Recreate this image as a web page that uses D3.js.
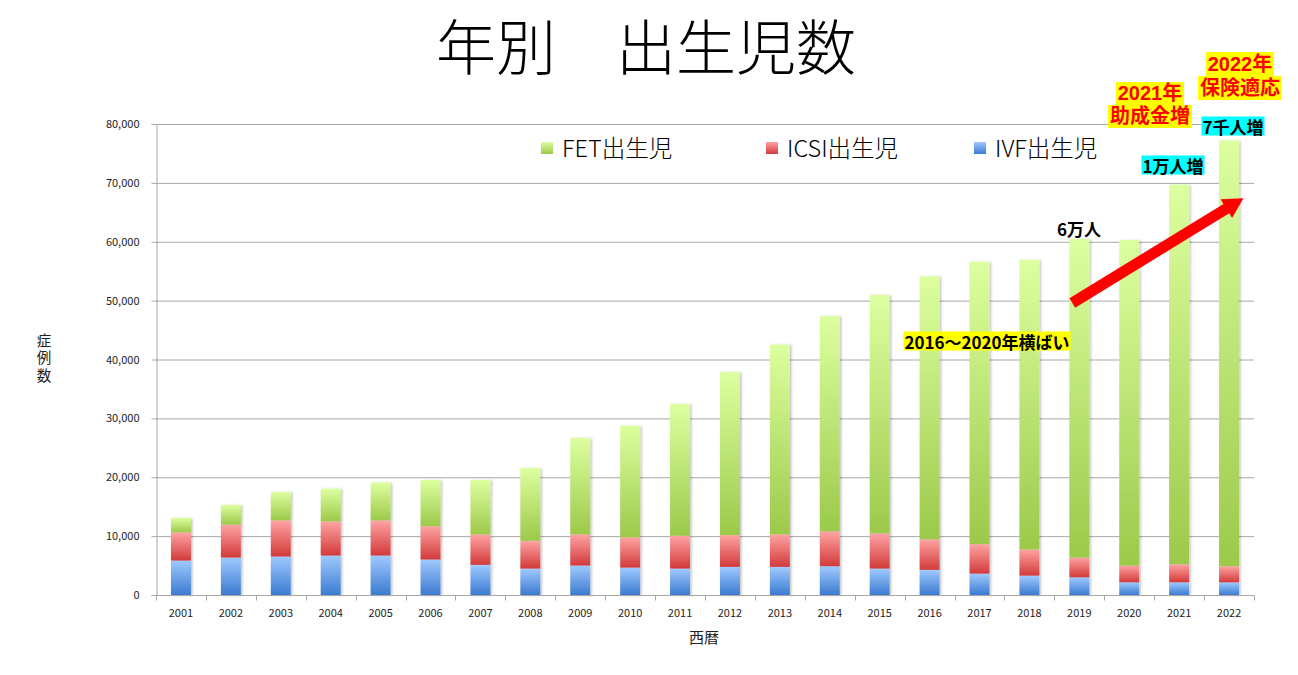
<!DOCTYPE html>
<html><head><meta charset="utf-8">
<script src="https://cdn.jsdelivr.net/npm/d3@7"></script>
<style>
html,body{margin:0;padding:0;background:#fff;}
svg{display:block;}
text{font-family:"Noto Sans CJK JP","Noto Sans",sans-serif;}
.note{font-family:"Liberation Sans","Noto Sans CJK JP",sans-serif;font-weight:700;color:#ff0000;text-align:center;font-size:20px;}
.note span{display:inline-block;background:#ffff00;padding:0 2px;}
</style></head>
<body>
<svg id="chart" width="1298" height="675"></svg>
<script>
const years = ["2001","2002","2003","2004","2005","2006","2007","2008","2009","2010","2011","2012","2013","2014","2015","2016","2017","2018","2019","2020","2021","2022"];
const ivfBirths = [5850,6360,6540,6700,6700,6030,5120,4490,5000,4660,4490,4780,4780,4890,4490,4270,3630,3290,3000,2150,2150,2150];
const icsiBirths = [4780,5580,6140,5800,5980,5630,5170,4720,5290,5120,5580,5390,5510,5910,5970,5170,5010,4440,3360,2850,3070,2730];
const fetBirths = [2470,3360,4820,5570,6410,7880,9250,12370,16370,18970,22380,27700,32230,36550,40490,44670,47970,49220,54120,55310,64470,72320];
const yTicks = [0,10000,20000,30000,40000,50000,60000,70000,80000];
const seriesNames = ["FET出生児","ICSI出生児","IVF出生児"];
const titleText = "年別　出生児数";
const xTitle = "西暦";
const yTitle = "症例数";

const svg = d3.select("#chart");
const pLeft = 156, pRight = 1254, pTop = 124, pBottom = 595;

const x = d3.scaleBand().domain(years).range([pLeft, pRight]).paddingInner(0.6).paddingOuter(0.3);
const y = d3.scaleLinear().domain([0, 80000]).range([pBottom, pTop]);

const defs = svg.append("defs");
function grad(id, c1, c2){
  const g = defs.append("linearGradient").attr("id", id).attr("x1",0).attr("y1",0).attr("x2",0).attr("y2",1);
  g.append("stop").attr("offset","0%").attr("stop-color",c1);
  g.append("stop").attr("offset","100%").attr("stop-color",c2);
}
grad("gFET", "#ddffa0", "#9cc94a");
grad("gICSI", "#ffa3a3", "#d23a3a");
grad("gIVF", "#a0c9ff", "#3b7bd0");
const sh = defs.append("filter").attr("id","shadow").attr("x","-30%").attr("y","-5%").attr("width","160%").attr("height","110%");
sh.append("feDropShadow").attr("dx",1.5).attr("dy",0.5).attr("stdDeviation",1.2).attr("flood-color","#000").attr("flood-opacity",0.25);

// Title
svg.append("text").attr("x", 646).attr("y", 70).attr("text-anchor","middle")
  .attr("font-size", 60).attr("font-weight", 300).attr("fill","#000").text(titleText);

// Gridlines
svg.append("g").selectAll("line").data(yTicks.slice(1)).join("line")
  .attr("x1", pLeft).attr("x2", pRight).attr("y1", d=>y(d)+0.5).attr("y2", d=>y(d)+0.5)
  .attr("stroke","#a8a8a8").attr("stroke-width",1);

// Y axis
const yAxis = svg.append("g").attr("transform",`translate(${pLeft+0.5},0)`)
  .call(d3.axisLeft(y).tickValues(yTicks).tickSize(5).tickPadding(12).tickFormat(d3.format(",")));
yAxis.select(".domain").attr("stroke","#a8a8a8");
yAxis.selectAll(".tick line").attr("stroke","#a8a8a8");
yAxis.selectAll("text").attr("font-family","'DejaVu Sans',sans-serif").attr("font-size",11).attr("fill","#222");

// Stacked bars
const rows = years.map((yr,i)=>({year:yr, IVF:ivfBirths[i], ICSI:icsiBirths[i], FET:fetBirths[i]}));
const stack = d3.stack().keys(["IVF","ICSI","FET"])(rows);
const barG = svg.append("g").attr("filter","url(#shadow)");
stack.forEach(layer=>{
  barG.append("g").attr("fill", `url(#g${layer.key})`)
    .selectAll("rect").data(layer).join("rect")
    .attr("x", d=>x(d.data.year)).attr("width", x.bandwidth())
    .attr("y", d=>y(d[1])).attr("height", d=>y(d[0])-y(d[1]));
});

// X axis
const xAxisG = svg.append("g").attr("transform",`translate(0,${pBottom+0.5})`);
xAxisG.append("line").attr("x1",pLeft).attr("x2",pRight).attr("stroke","#a8a8a8");
const bounds = years.map(d=>x(d) - x.step()*x.paddingInner()/2).concat([pRight]);
xAxisG.selectAll("line.tk").data(bounds).join("line").attr("class","tk")
  .attr("x1",d=>Math.round(d)+0.5).attr("x2",d=>Math.round(d)+0.5).attr("y1",0).attr("y2",5).attr("stroke","#a8a8a8");
const xAxis = svg.append("g").attr("transform",`translate(0,${pBottom})`)
  .call(d3.axisBottom(x).tickSize(0).tickPadding(14));
xAxis.select(".domain").remove();
xAxis.selectAll("text").attr("font-family","'DejaVu Sans',sans-serif").attr("font-size",11).attr("fill","#222");

// Axis titles
svg.append("text").attr("x",704).attr("y",643).attr("text-anchor","middle").attr("font-size",15).attr("fill","#222").text(xTitle);
svg.append("text").attr("x",44).attr("y",333).attr("text-anchor","start")
  .style("writing-mode","vertical-rl").style("text-orientation","upright")
  .attr("letter-spacing",3).attr("font-size",14.5).attr("fill","#222").text(yTitle);

// Legend
const legendItems = [
  {name:seriesNames[0], key:"FET", x:541},
  {name:seriesNames[1], key:"ICSI", x:766},
  {name:seriesNames[2], key:"IVF", x:974}
];
const lg = svg.append("g");
legendItems.forEach(it=>{
  lg.append("rect").attr("x",it.x).attr("y",142).attr("width",12).attr("height",12).attr("fill",`url(#g${it.key})`);
  lg.append("text").attr("x",it.x+21).attr("y",157).attr("font-size",23.5).attr("font-weight",300).attr("fill","#000").text(it.name);
});

// Annotations
const annoFont = "'Liberation Sans','Noto Sans CJK JP',sans-serif";
function label(txt, cx, cy, size, color, bg){
  const g = svg.append("g");
  const t = g.append("text").attr("x",cx).attr("y",cy).attr("text-anchor","middle")
    .attr("dominant-baseline","central").attr("font-family",annoFont)
    .attr("font-size",size).attr("font-weight",700).attr("fill",color).text(txt);
  if(bg){
    const b = t.node().getBBox();
    const h = size*1.12;
    g.insert("rect","text").attr("x",b.x-1).attr("y",cy-h/2).attr("width",b.width+2).attr("height",h).attr("fill",bg);
  }
}
label("2016～2020年横ばい", 987, 341, 17, "#000", "#ffff00");
label("6万人", 1079, 228, 17, "#000", null);
label("1万人増", 1173, 165, 17, "#000", "#00ffff");
label("7千人増", 1233, 126, 17, "#000", "#00ffff");

// Two-line policy notes (one wrapped text block each)
function note(lines, cx, topY, lineH){
  const w = 110;
  const fo = svg.append("foreignObject").attr("x", cx - w/2).attr("y", topY).attr("width", w).attr("height", lineH*lines.length + 10);
  const div = fo.append("xhtml:div").attr("class","note").style("line-height", lineH + "px");
  lines.forEach((ln,i)=>{
    if(i>0) div.append("xhtml:br");
    div.append("xhtml:span").style("height", lineH + "px").style("line-height", lineH + "px").text(ln);
  });
}
note(["2021年","助成金増"], 1150, 82, 23);
note(["2022年","保険適応"], 1240, 52, 24);

// Arrow (2019 -> 2022 trend)
const arrowFrom = {year:"2019", value:49600, dx:-0.35};
const arrowTo = {year:"2022", value:67400, dx:0.72};
const ax1 = x(arrowFrom.year)+x.bandwidth()*(0.5+arrowFrom.dx), ay1 = y(arrowFrom.value);
const ax2 = x(arrowTo.year)+x.bandwidth()*(0.5+arrowTo.dx), ay2 = y(arrowTo.value);
const ang = Math.atan2(ay2-ay1, ax2-ax1);
const len = Math.hypot(ax2-ax1, ay2-ay1);
const headL = 20, headW = 11, shaftW = 5.5;
const pts = [[0,-shaftW],[len-headL,-shaftW],[len-headL,-headW],[len,0],[len-headL,headW],[len-headL,shaftW],[0,shaftW]];
svg.append("polygon")
  .attr("points", pts.map(p=>p.join(",")).join(" "))
  .attr("transform", `translate(${ax1},${ay1}) rotate(${ang*180/Math.PI})`)
  .attr("fill","#ff0000");
</script>
</body></html>
